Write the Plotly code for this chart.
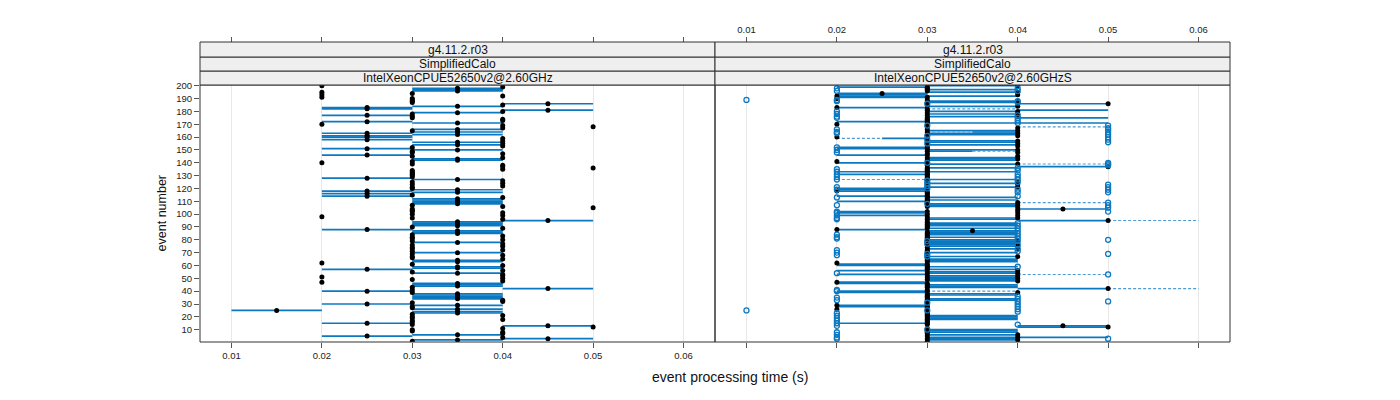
import plotly.graph_objects as go

# ---------------- data ----------------
x_ticks = [0.01, 0.02, 0.03, 0.04, 0.05, 0.06]
x_tick_labels = ["0.01", "0.02", "0.03", "0.04", "0.05", "0.06"]
y_ticks = [10, 20, 30, 40, 50, 60, 70, 80, 90, 100, 110, 120, 130, 140, 150, 160, 170, 180, 190, 200]

strip_rows = ["g4.11.2.r03", "SimplifiedCalo"]
left_machine = "IntelXeonCPUE52650v2@2.60GHz"
right_machine = "IntelXeonCPUE52650v2@2.60GHzS"

# Left panel: events grouped by (low, high) processing time (s)
left_at_002 = [200, 195, 193, 191, 170, 140, 98, 62, 51, 47]
left_at_003 = [194, 190, 189, 188, 187, 178, 176, 175, 165, 152, 149, 148, 145, 141, 139, 134, 133, 132,
               131, 130, 129, 125, 123, 121, 120, 115, 107, 104, 103, 102, 100, 97, 90, 84, 82, 81, 79,
               76, 74, 73, 71, 69, 67, 66, 61, 55, 49, 43, 41, 39, 31, 28, 27, 22, 20, 19, 17, 16, 14,
               10, 9, 1]
left_at_004 = [199, 192, 185, 180, 174, 173, 169, 167, 159, 157, 155, 153, 147, 144, 138, 137, 135, 126,
               124, 122, 113, 106, 101, 99, 96, 89, 83, 80, 77, 75, 72, 68, 65, 60, 56, 53, 52, 50, 48,
               33, 32, 21, 18, 11, 8, 7, 4]
left_at_005 = [168, 136, 105, 12]
left_001_002 = [25]
left_002_003 = [183, 182, 177, 172, 163, 161, 160, 158, 151, 146, 128, 118, 116, 114, 88, 57, 40, 30, 15, 5]
left_003_004 = [198, 197, 196, 184, 179, 171, 166, 164, 162, 156, 154, 150, 143, 142, 127, 119, 117, 112,
                111, 110, 109, 108, 94, 93, 92, 91, 87, 86, 85, 78, 70, 64, 63, 59, 58, 54, 46, 45, 44,
                38, 37, 36, 35, 34, 29, 26, 24, 23, 6, 2]
left_004_005 = [186, 181, 95, 42, 13, 3]

# Right panel: medians
right_med_002 = [192, 190, 183, 170, 160, 141, 118, 88, 62, 47, 29, 26]
right_med_0025 = [194]
right_med_003 = [199, 198, 197, 196, 191, 189, 187, 185, 182, 181, 179, 177, 175, 174, 173, 172, 171, 169,
                 168, 166, 164, 162, 159, 158, 156, 154, 152, 151, 149, 147, 146, 144, 142, 140, 138, 136,
                 135, 134, 133, 132, 131, 130, 129, 128, 127, 126, 124, 122, 120, 119, 117, 116, 115, 114,
                 113, 112, 111, 110, 108, 106, 102, 100, 98, 96, 94, 93, 92, 91, 90, 89, 86, 85, 84, 83,
                 82, 81, 80, 78, 76, 74, 72, 71, 70, 69, 68, 66, 65, 64, 63, 61, 60, 59, 58, 57, 55, 53,
                 51, 49, 46, 45, 44, 43, 41, 40, 38, 37, 36, 35, 34, 33, 32, 31, 30, 28, 27, 25, 24, 23,
                 22, 21, 20, 19, 18, 17, 16, 15, 14, 11, 10, 9, 8, 7, 5, 3, 1]
right_med_0035 = [87]
right_med_004 = [200, 195, 193, 188, 184, 180, 178, 176, 167, 165, 163, 161, 157, 155, 153, 150, 148, 145,
                 143, 139, 125, 123, 121, 109, 107, 105, 103, 101, 99, 97, 79, 77, 75, 73, 67, 56, 54, 52,
                 50, 48, 39, 6, 4, 2]
right_med_0045 = [104, 13]
right_med_005 = [186, 137, 95, 42, 12]

# Right panel: boxes (solid)
right_box_002_003 = [199, 194, 193, 192, 191, 183, 172, 152, 151, 146, 140, 133, 131, 120, 119, 118, 114,
                     110, 102, 101, 99, 88, 61, 60, 56, 53, 47, 46, 40, 39, 29, 28, 15]
right_box_0025_003 = [159]
right_box_003_004 = [200, 197, 195, 192, 188, 187, 184, 180, 178, 176, 171, 165, 163, 162, 157, 156, 154,
                     150, 144, 143, 142, 139, 136, 133, 127, 124, 121, 113, 111, 108, 107, 106, 97, 96, 93,
                     92, 91, 89, 87, 86, 85, 84, 82, 80, 79, 78, 77, 76, 75, 73, 70, 67, 65, 64, 63, 59,
                     57, 55, 54, 52, 51, 50, 49, 48, 45, 44, 43, 38, 37, 34, 33, 21, 20, 19, 18, 10, 9, 8,
                     6, 4, 3, 2]
right_box_003_0035 = [149]
right_box_0035_004 = [164]
right_box_004_005 = [186, 181, 175, 171, 137, 104, 95, 42, 13, 12, 4]

# Right panel: whiskers (dashed)
right_whisker_event = [182, 164, 159, 168, 149, 127, 139, 109, 95, 53, 40, 42]
right_whisker_from = [0.03, 0.03, 0.02, 0.04, 0.035, 0.02, 0.04, 0.04, 0.05, 0.04, 0.03, 0.05]
right_whisker_to = [0.04, 0.035, 0.025, 0.05, 0.04, 0.03, 0.05, 0.05, 0.06, 0.05, 0.04, 0.06]

# Right panel: outliers (open circles)
right_out_001 = [189, 25]
right_out_002 = [198, 196, 189, 188, 180, 178, 176, 175, 166, 164, 163, 152, 150, 148, 135, 133, 131, 129,
                 127, 121, 119, 113, 107, 102, 101, 99, 97, 96, 84, 82, 81, 72, 70, 68, 54, 41, 40, 35,
                 33, 23, 21, 19, 17, 15, 13, 8, 6, 4, 3]
right_out_003 = [186, 169, 161, 158, 155, 140, 126, 124, 122, 120, 108, 79, 77, 69, 67, 31, 25, 10]
right_out_004 = [198, 196, 188, 187, 177, 175, 173, 171, 136, 134, 131, 129, 127, 125, 119, 117, 114, 93,
                 91, 89, 87, 85, 83, 81, 79, 76, 73, 71, 59, 36, 34, 32, 30, 28, 26, 24, 14]
right_out_005 = [169, 167, 166, 164, 162, 160, 158, 156, 140, 139, 138, 123, 121, 119, 117, 109, 107, 105,
                 102, 80, 69, 53, 32, 3]

# ---------------- styling ----------------
BLUE = "#0b78c0"
BLUE_LIGHT = "#4f9bd3"
FONT = "Liberation Sans, Arial, Helvetica, sans-serif"
X_RANGE = [0.00652, 0.06348]
Y_RANGE = [0.4, 200.6]
Y_TOP = 0.8567          # top of the panels (paper)
STRIP_EDGES = [Y_TOP, 0.9033, 0.95, 1.0]


def segments(events, lo, hi):
    xs, ys = [], []
    for e in events:
        xs += [lo, hi, None]
        ys += [e, e, None]
    return xs, ys


def points(events, x):
    return [x] * len(events), list(events)


fig = go.Figure()

# ---------- left panel ----------
left_groups = [
    (left_at_002, 0.02, 0.02), (left_at_003, 0.03, 0.03), (left_at_004, 0.04, 0.04),
    (left_at_005, 0.05, 0.05), (left_001_002, 0.01, 0.02), (left_002_003, 0.02, 0.03),
    (left_003_004, 0.03, 0.04), (left_004_005, 0.04, 0.05),
]
bx, by, mx, my = [], [], [], []
for evs, lo, hi in left_groups:
    if hi > lo:
        sx, sy = segments(evs, lo, hi)
        bx += sx
        by += sy
    px, py = points(evs, (lo + hi) / 2)
    mx += px
    my += py

fig.add_trace(go.Scatter(x=bx, y=by, mode="lines", line=dict(color=BLUE, width=1.7),
                         xaxis="x", yaxis="y", hoverinfo="skip"))
fig.add_trace(go.Scatter(x=mx, y=my, mode="markers", marker=dict(color="black", size=5),
                         xaxis="x", yaxis="y"))

# ---------- right panel ----------
rbx, rby = [], []
for evs, lo, hi in [(right_box_002_003, 0.02, 0.03), (right_box_0025_003, 0.025, 0.03),
                    (right_box_003_004, 0.03, 0.04), (right_box_003_0035, 0.03, 0.035),
                    (right_box_0035_004, 0.035, 0.04), (right_box_004_005, 0.04, 0.05)]:
    sx, sy = segments(evs, lo, hi)
    rbx += sx
    rby += sy
fig.add_trace(go.Scatter(x=rbx, y=rby, mode="lines", line=dict(color=BLUE, width=1.7),
                         xaxis="x2", yaxis="y", hoverinfo="skip"))

wx, wy = [], []
for e, a, b in zip(right_whisker_event, right_whisker_from, right_whisker_to):
    wx += [a, b, None]
    wy += [e, e, None]
fig.add_trace(go.Scatter(x=wx, y=wy, mode="lines",
                         line=dict(color=BLUE_LIGHT, width=1.1, dash="3px,2px"),
                         xaxis="x2", yaxis="y", hoverinfo="skip"))

rmx, rmy = [], []
for evs, x in [(right_med_002, 0.02), (right_med_0025, 0.025), (right_med_003, 0.03),
               (right_med_0035, 0.035), (right_med_004, 0.04), (right_med_0045, 0.045),
               (right_med_005, 0.05)]:
    px, py = points(evs, x)
    rmx += px
    rmy += py
fig.add_trace(go.Scatter(x=rmx, y=rmy, mode="markers", marker=dict(color="black", size=5),
                         xaxis="x2", yaxis="y"))

ox, oy = [], []
for evs, x in [(right_out_001, 0.01), (right_out_002, 0.02), (right_out_003, 0.03),
               (right_out_004, 0.04), (right_out_005, 0.05)]:
    px, py = points(evs, x)
    ox += px
    oy += py
fig.add_trace(go.Scatter(x=ox, y=oy, mode="markers",
                         marker=dict(symbol="circle-open", color=BLUE, size=5, line=dict(width=1.3)),
                         xaxis="x2", yaxis="y"))

# dummy traces so the top axes are drawn
fig.add_trace(go.Scatter(x=[None], y=[None], xaxis="x3", yaxis="y", hoverinfo="skip"))
fig.add_trace(go.Scatter(x=[None], y=[None], xaxis="x4", yaxis="y", hoverinfo="skip"))

tick_common = dict(range=X_RANGE, tickvals=x_ticks, ticktext=x_tick_labels, ticks="outside",
                   ticklen=5, tickcolor="#555", zeroline=False, showline=False,
                   tickfont=dict(family=FONT, size=9.5, color="#222"))

fig.update_layout(
    width=1400, height=400,
    margin=dict(l=192, r=178, t=34, b=66),
    plot_bgcolor="white", paper_bgcolor="white",
    showlegend=False,
    font=dict(family=FONT, color="#111"),
    xaxis=dict(domain=[0, 0.5], anchor="y", showgrid=True, gridcolor="#e8e8e8", **tick_common),
    xaxis2=dict(domain=[0.5, 1], anchor="y", showgrid=True, gridcolor="#e8e8e8",
                showticklabels=False, **tick_common),
    xaxis3=dict(overlaying="x", side="top", anchor="free", position=1.0, showgrid=False,
                showticklabels=False, **tick_common),
    xaxis4=dict(overlaying="x2", side="top", anchor="free", position=1.0, showgrid=False,
                showticklabels=True, **tick_common),
    yaxis=dict(domain=[0, Y_TOP], anchor="x", range=Y_RANGE, tickvals=y_ticks, ticks="outside",
               ticklen=5, tickcolor="#555", showgrid=False, zeroline=False, showline=False,
               tickfont=dict(family=FONT, size=9.5, color="#222")),
)

shapes = []
annotations = []
for (x0, x1), machine in [((0, 0.5), left_machine), ((0.5, 1.0), right_machine)]:
    shapes.append(dict(type="rect", xref="paper", yref="paper", x0=x0, x1=x1, y0=0, y1=Y_TOP,
                       line=dict(color="#333", width=1), fillcolor="rgba(0,0,0,0)", layer="above"))
    labels = [machine, strip_rows[1], strip_rows[0]]
    for i, lab in enumerate(labels):
        shapes.append(dict(type="rect", xref="paper", yref="paper", x0=x0, x1=x1,
                           y0=STRIP_EDGES[i], y1=STRIP_EDGES[i + 1],
                           line=dict(color="#333", width=1), fillcolor="#efefef", layer="above"))
        annotations.append(dict(x=(x0 + x1) / 2, y=(STRIP_EDGES[i] + STRIP_EDGES[i + 1]) / 2,
                                xref="paper", yref="paper", text=lab, showarrow=False,
                                font=dict(family=FONT, size=12, color="#111"),
                                xanchor="center", yanchor="middle"))

annotations.append(dict(x=0.5146, y=-0.117, xref="paper", yref="paper",
                        text="event processing time (s)", showarrow=False,
                        font=dict(family=FONT, size=14, color="#111"),
                        xanchor="center", yanchor="middle"))
annotations.append(dict(x=-0.036, y=Y_TOP / 2, xref="paper", yref="paper", text="event number",
                        showarrow=False, textangle=-90,
                        font=dict(family=FONT, size=12.5, color="#111"),
                        xanchor="center", yanchor="middle"))
fig.update_layout(shapes=shapes, annotations=annotations)

fig.write_html("out.html")
